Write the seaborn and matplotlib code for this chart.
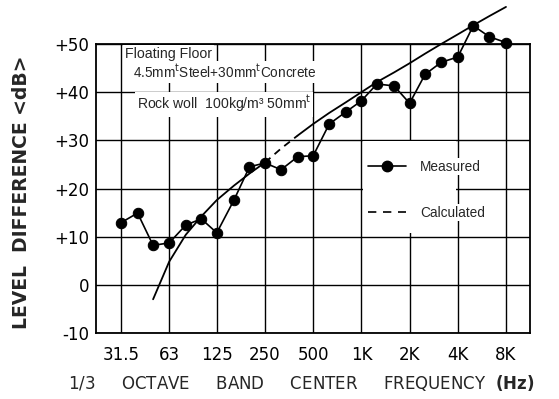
import numpy as np
import pandas as pd
import matplotlib
matplotlib.use("Agg")
import matplotlib.pyplot as plt
import seaborn as sns
from matplotlib.lines import Line2D
from matplotlib.patches import Rectangle

# 1/3-octave band centre frequencies (Hz) and measured level difference (dB)
band_hz = [31.5, 40, 50, 63, 80, 100, 125, 160, 200, 250, 315, 400, 500,
           630, 800, 1000, 1250, 1600, 2000, 2500, 3150, 4000, 5000, 6300, 8000]
measured_db = [12.9, 14.9, 8.2, 8.7, 12.4, 13.7, 10.8, 17.6, 24.5, 25.3, 23.9,
               26.6, 26.8, 33.4, 35.9, 38.2, 41.7, 41.3, 37.7, 43.7, 46.2,
               47.3, 53.8, 51.5, 50.3]

# calculated curve
calc_hz = [50, 63, 80, 100, 125, 160, 200, 250, 315, 400, 500, 630, 800,
           1000, 1250, 1600, 2000, 2500, 3150, 4000, 5000, 6300, 8000]
calc_db = [-3.0, 4.8, 10.4, 14.2, 17.6, 20.6, 23.1, 25.4, 28.3, 31.0, 33.4,
           35.7, 37.9, 40.0, 42.1, 44.1, 46.0, 48.0, 50.0, 52.0, 53.9, 55.8, 57.7]

octave_ticks = [31.5, 63, 125, 250, 500, 1000, 2000, 4000, 8000]
octave_labels = ["31.5", "63", "125", "250", "500", "1K", "2K", "4K", "8K"]
db_ticks = [-10, 0, 10, 20, 30, 40, 50]
db_labels = ["-10", "0", "+10", "+20", "+30", "+40", "+50"]

sns.set_style("white")
plt.rcParams["font.family"] = ["DejaVu Sans"]

measured = pd.DataFrame({"freq": band_hz, "db": measured_db})
calc = pd.DataFrame({"freq": calc_hz, "db": calc_db})

fig = plt.figure(figsize=(5.59, 3.99), dpi=100)
ax = fig.add_axes([96 / 559, 66 / 399, 434 / 559, 289 / 399])
ax.set_xscale("log")

# calculated curve: solid, with a dashed stretch between 250 and 400 Hz
lo = calc[calc["freq"] <= 250]
mid = calc[(calc["freq"] >= 250) & (calc["freq"] <= 400)]
hi = calc[calc["freq"] >= 400]
for part, ls in ((lo, "-"), (mid, (0, (4, 3))), (hi, "-")):
    sns.lineplot(data=part, x="freq", y="db", ax=ax, color="black",
                 linewidth=1.3, linestyle=ls, sort=False, clip_on=False,
                 zorder=3, legend=False)

sns.lineplot(data=measured, x="freq", y="db", ax=ax, color="black",
             linewidth=1.2, marker="o", markersize=7.5, markeredgecolor="black",
             sort=False, clip_on=False, zorder=4, legend=False)

ax.set_xlim(22, 11300)
ax.set_ylim(-10, 50)
ax.set_xticks(octave_ticks)
ax.set_xticklabels(octave_labels)
ax.xaxis.set_minor_locator(matplotlib.ticker.NullLocator())
ax.set_yticks(db_ticks)
ax.set_yticklabels(db_labels)
ax.tick_params(length=0, labelsize=12, colors="black", pad=5)
ax.tick_params(axis="x", pad=9)
ax.grid(True, color="black", linewidth=1.0)
ax.set_axisbelow(True)
for sp in ax.spines.values():
    sp.set_color("black")
    sp.set_linewidth(1.3)
ax.set_xlabel("")
ax.set_ylabel("")

# white area behind the legend
ax.add_patch(Rectangle((0.615, 0.346), 0.214, 0.318, transform=ax.transAxes,
                       facecolor="white", edgecolor="none", zorder=1.5))
handles = [Line2D([], [], color="black", lw=1.2, marker="o", markersize=7.5),
           Line2D([], [], color="black", lw=1.2, linestyle=(0, (5, 4)))]
leg = ax.legend(handles, ["Measured", "Calculated"], loc="upper left",
                bbox_to_anchor=(0.627, 0.60), frameon=False, borderpad=0,
                borderaxespad=0, handlelength=2.8, handletextpad=1.0,
                labelspacing=2.35, prop={"family": "Liberation Sans", "size": 9.8})
leg.set_zorder(5)
for t in leg.get_texts():
    t.set_bbox(dict(facecolor="white", edgecolor="none", pad=1))

note = dict(transform=ax.transAxes, family="Liberation Sans",
            va="center", ha="left", zorder=2,
            bbox=dict(facecolor="white", edgecolor="none", pad=1.5))
ax.text(0.067, 0.965, "Floating Floor", fontsize=10.2, **note)
ax.text(0.085, 0.903, r"4.5mm$^{\rm t}$Steel+30mm$^{\rm t}$Concrete",
        fontsize=9.8, **note)
ax.text(0.094, 0.792, r"Rock woll  100kg/m³ 50mm$^{\rm t}$", fontsize=10.1, **note)

fig.text(22 / 559, 1 - 192 / 399, "LEVEL  DIFFERENCE <dB>", rotation=90,
         ha="center", va="center", fontsize=13.5, fontweight="bold")
fig.text(301 / 559, 1 - 383 / 399,
         "1/3     OCTAVE     BAND     CENTER     FREQUENCY  " + r"$\mathbf{(Hz)}$",
         ha="center", va="center", fontsize=12)

fig.savefig("out.png", dpi=100)
